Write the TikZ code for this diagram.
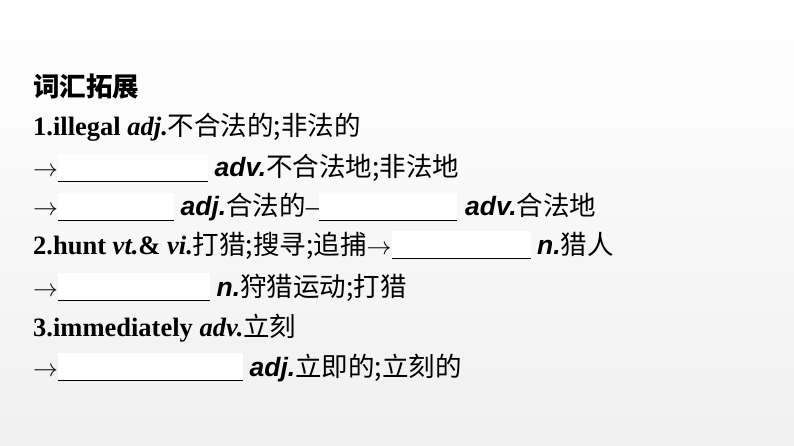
\documentclass[tikz,border=0pt]{standalone}
\usepackage{fontspec}
\setmainfont{Liberation Serif}
\newfontfamily\cjk{Noto Sans CJK SC}
\newfontfamily\pos{Liberation Sans}
\usetikzlibrary{positioning}
\setlength\fboxsep{0pt}
\newcommand\blank[1]{\raisebox{-5pt}{\colorbox{white}{\parbox[b][28pt][b]{#1}{\rule{#1}{0.9pt}}}}}
\newcommand\pa[1]{{\pos\bfseries\itshape #1}}
\newcommand\zh[1]{{\cjk #1}}

\begin{document}
\begin{tikzpicture}[x=1pt,y=-1pt,every node/.style={inner sep=0pt,anchor=base west}]
  \shade [top color=white,bottom color=gray!12] (0,0) rectangle (794,446);
  \useasboundingbox (0,0) rectangle (794,446);

  \tikzset{line/.style={font=\fontsize{26.5}{28}\selectfont\bfseries}}

  \node [line] (title) at (33,97) {\zh{词汇拓展}};
  \node [line] (l1) at (33,136) {1.illegal \textit{adj.}\mdseries\zh{不合法的;非法的}};
  \node [line] (l2) at (33,177) {\mdseries$\rightarrow$\blank{150pt} \pa{adv.}\zh{不合法地;非法地}};
  \node [line] (l3) at (33,216) {\mdseries$\rightarrow$\blank{116pt} \pa{adj.}\zh{合法的}--\blank{138pt}\hspace{8pt}\pa{adv.}\zh{合法地}};
  \node [line] (l4) at (33,254) {2.hunt \textit{vt.}\& \textit{vi.}\mdseries\zh{打猎;搜寻;追捕}$\rightarrow$\blank{139pt} \pa{n.}\zh{猎人}};
  \node [line] (l5) at (33,296) {\mdseries$\rightarrow$\blank{152pt} \pa{n.}\zh{狩猎运动;打猎}};
  \node [line] (l6) at (33,336) {3.immediately \textit{adv.}\mdseries\zh{立刻}};
  \node [line] (l7) at (33,376) {\mdseries$\rightarrow$\blank{185pt} \pa{adj.}\zh{立即的;立刻的}};
\end{tikzpicture}
\end{document}
